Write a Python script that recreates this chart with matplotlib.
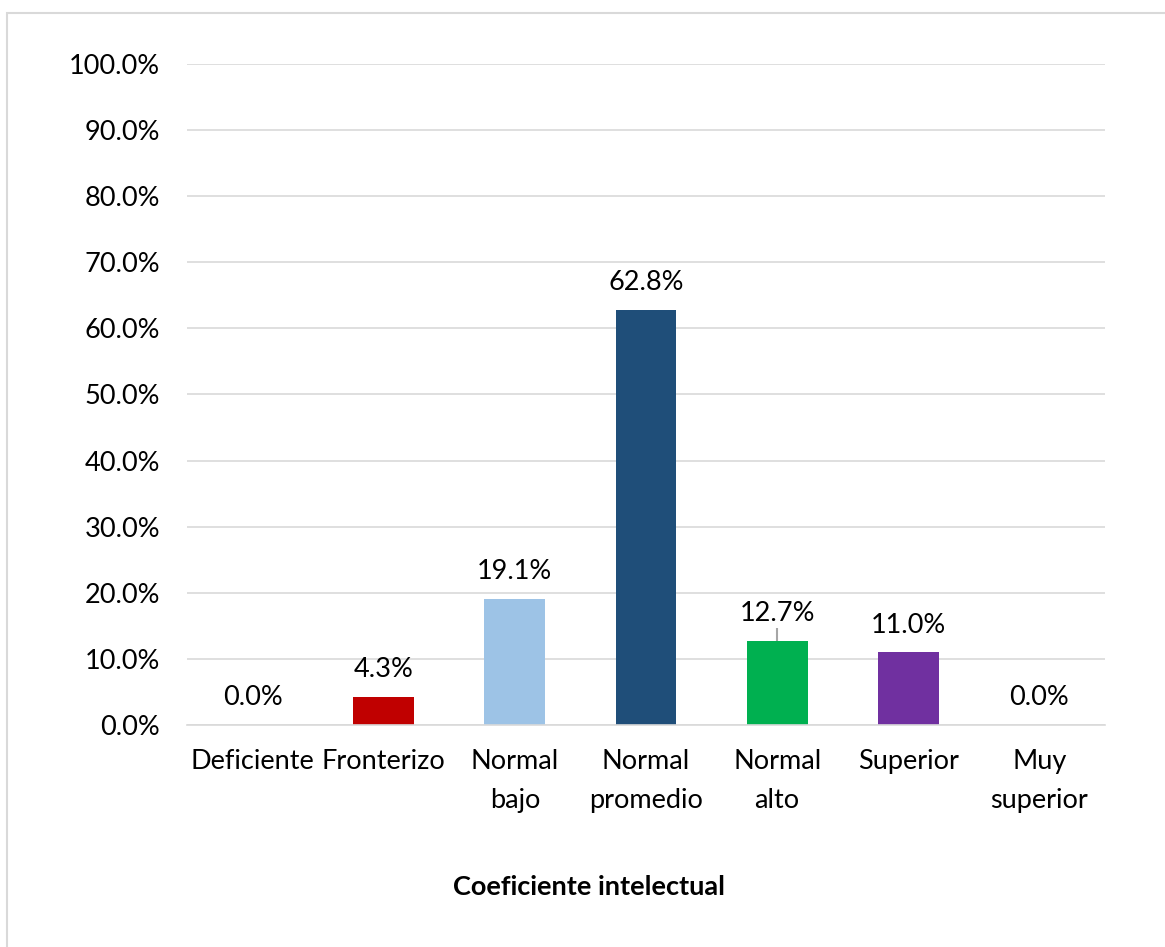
import matplotlib
matplotlib.use("Agg")
import matplotlib.pyplot as plt
from matplotlib.patches import Rectangle

plt.rcParams['font.family'] = ['Lato', 'DejaVu Sans']

categories = ["Deficiente", "Fronterizo", "Normal\nbajo", "Normal\npromedio",
              "Normal\nalto", "Superior", "Muy\nsuperior"]
values = [0.0, 4.3, 19.1, 62.8, 12.7, 11.0, 0.0]
colors = ["#C00000", "#C00000", "#9DC3E6", "#1F4E79", "#00B050", "#7030A0", "#7030A0"]
yticks = [0, 10, 20, 30, 40, 50, 60, 70, 80, 90, 100]
xlabel = "Coeficiente intelectual"

W, H = 1165, 947
FS = 19.5
fig = plt.figure(figsize=(W / 100, H / 100), dpi=100)

# outer chart frame
fig.patches.append(Rectangle((7 / W, -0.1), 1.2, 1 - 13 / H + 0.1,
                             transform=fig.transFigure, fill=False,
                             edgecolor="#D9D9D9", linewidth=1.5, zorder=0))

left, right, top, bottom = 187, 1105, 64, 725
ax = fig.add_axes([left / W, 1 - bottom / H, (right - left) / W, (bottom - top) / H])

x = list(range(len(categories)))
ax.bar(x, values, width=0.465, color=colors, zorder=2)

# small error marker on "Normal alto"
ax.errorbar([4], [values[4]], yerr=[[0.0], [2.0]], fmt="none",
            ecolor="#A6A6A6", elinewidth=1.5, capsize=0, zorder=3)

for xi, v in zip(x, values):
    ax.annotate(f"{v:.1f}%", (xi, v), xytext=(0, 19.5), textcoords="offset points",
                ha="center", va="center", fontsize=FS, color="#000000")

ax.set_xlim(-0.5, len(categories) - 0.5)
ax.set_ylim(0, 100)
ax.set_yticks(yticks)
ax.set_yticklabels([f"{t:.1f}%" for t in yticks], fontsize=FS)
ax.set_xticks(x)
ax.set_xticklabels(categories, fontsize=FS, linespacing=1.7, va="top")
ax.tick_params(axis="both", length=0)
ax.tick_params(axis="y", pad=19.5)
ax.tick_params(axis="x", pad=17)

ax.grid(axis="y", color="#D9D9D9", linewidth=1.2, zorder=0)
ax.set_axisbelow(True)
for s in ["top", "right", "left"]:
    ax.spines[s].set_visible(False)
ax.spines["bottom"].set_color("#D9D9D9")
ax.spines["bottom"].set_linewidth(1.2)

fig.text(589 / W, 1 - 887 / H, xlabel, ha="center", va="center",
         fontsize=FS, fontweight="bold")

fig.savefig("out.png", dpi=100, facecolor="white")
